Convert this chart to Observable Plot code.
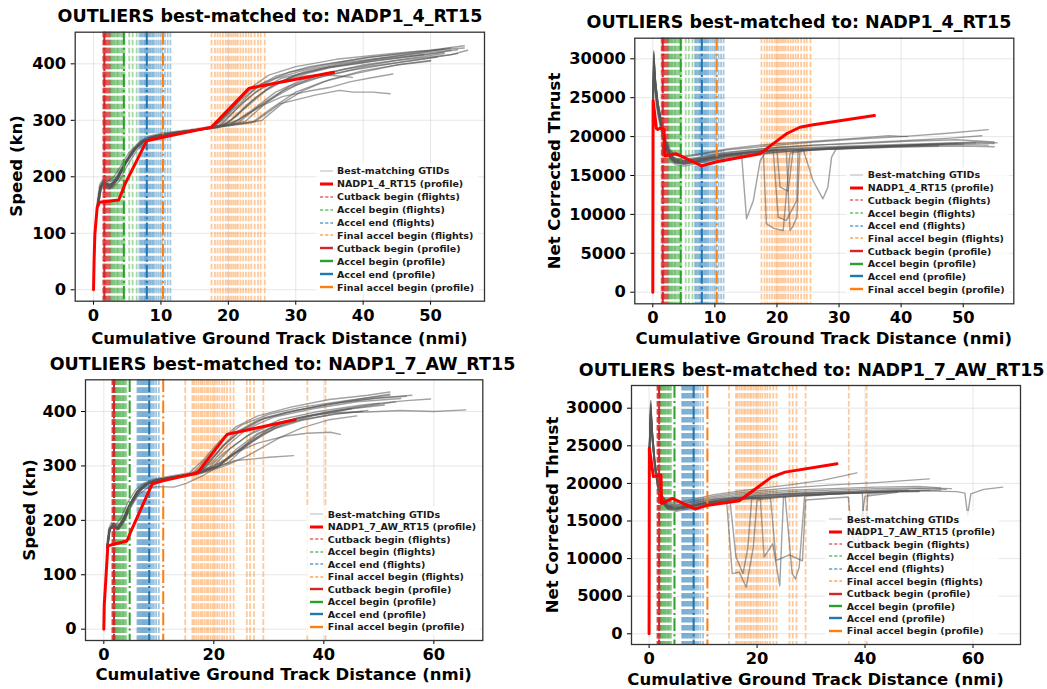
<!DOCTYPE html>
<html><head><meta charset="utf-8">
<script src="https://cdn.jsdelivr.net/npm/d3@7"></script>
<script src="https://cdn.jsdelivr.net/npm/@observablehq/plot@0.6"></script>
<style>
body{margin:0;background:#fff;width:1047px;height:689px;position:relative;overflow:hidden;font-family:"DejaVu Sans",sans-serif;font-weight:bold;color:#000}
.abs{position:absolute}
.title{font-size:17.5px;white-space:nowrap;transform:translate(-50%,-50%);line-height:1}
.xlab{font-size:16.5px;white-space:nowrap;transform:translate(-50%,-50%);line-height:1}
.ylab{font-size:16.5px;white-space:nowrap;transform:translate(-50%,-50%) rotate(-90deg);line-height:1}
.leg{font-size:9.5px;color:#1a1a1a;background:rgba(255,255,255,0.8);padding:2px 4px 2px 4px}
.leg .row{display:flex;align-items:center;white-space:nowrap}
.leg svg{flex:none}
</style>
</head><body>
<script>
// ---------- tick labels ----------
const xTicksTop = [0, 10, 20, 30, 40, 50];
const xTicksBottom = [0, 20, 40, 60];
const speedTicks = [0, 100, 200, 300, 400];
const thrustTicks = [0, 5000, 10000, 15000, 20000, 25000, 30000];

const titles = ["OUTLIERS best-matched to: NADP1_4_RT15", "OUTLIERS best-matched to: NADP1_4_RT15",
                "OUTLIERS best-matched to: NADP1_7_AW_RT15", "OUTLIERS best-matched to: NADP1_7_AW_RT15"];
const xLabel = "Cumulative Ground Track Distance (nmi)";
const yLabels = ["Speed (kn)", "Net Corrected Thrust", "Speed (kn)", "Net Corrected Thrust"];
const legendLabels = ["Best-matching GTIDs", "(profile)", "Cutback begin (flights)", "Accel begin (flights)",
  "Accel end (flights)", "Final accel begin (flights)", "Cutback begin (profile)", "Accel begin (profile)",
  "Accel end (profile)", "Final accel begin (profile)"];
const profileNames = ["NADP1_4_RT15", "NADP1_7_AW_RT15"];

// ---------- event positions (nmi) ----------
const cutbackFlightsA = [1.4, 1.5, 1.55, 1.6, 1.7, 1.75, 1.8, 1.9, 2.0, 2.1, 2.2, 2.3, 2.4, 2.5];
const accelBeginFlightsA = [2.5, 2.7, 2.8, 3.0, 3.1, 3.3, 3.5, 3.6, 3.8, 4.0, 4.2, 4.4, 4.6, 5.3, 5.8, 6.4];
const accelEndFlightsA = [6.8, 7.0, 7.2, 7.4, 7.6, 7.7, 7.9, 8.0, 8.2, 8.4, 8.6, 8.8, 9.0, 9.3, 9.6, 9.9, 10.2, 10.6, 11.0, 11.4];
const finalAccelFlightsA = [17.5, 18.0, 18.4, 18.8, 19.2, 19.6, 19.9, 20.2, 20.5, 20.8, 21.1, 21.4, 21.8, 22.2, 22.6, 23.0, 23.4, 23.9, 24.4, 24.8, 25.4];
const profileEventsA = [1.6, 4.5, 7.9, 10.3];

const cutbackFlightsB = [1.5, 1.6, 1.65, 1.7, 1.8, 1.85, 1.9, 2.0, 2.1];
const accelBeginFlightsB = [2.1, 2.3, 2.4, 2.6, 2.7, 2.9, 3.0, 3.2, 3.4, 3.5, 3.7, 3.9, 4.1];
const accelEndFlightsB = [6.1, 6.3, 6.5, 6.7, 6.9, 7.1, 7.3, 7.5, 7.7, 7.9, 8.1, 8.3, 8.5, 8.8, 9.1, 9.5, 10.0];
const finalAccelFlightsB = [14.8, 16.1, 16.4, 16.8, 17.2, 17.6, 17.9, 18.3, 18.7, 19.0, 19.4, 19.8, 20.2, 20.6, 21.0, 21.5, 21.9, 22.4, 23.0, 23.6, 26.0, 26.6, 27.3, 29.0, 37.0, 40.3];
const profileEventsB = [1.85, 4.7, 8.25, 10.8];

// ---------- profiles [distance, value] ----------
const profileSpeedA = [[0,0],[0.08,50],[0.2,99],[0.54,146],[0.9,155],[3.74,159],[4.7,188],[7.9,264],[10.3,270],[17.5,288],[23.1,357],[35.6,385]];
const profileThrustA = [[0,0],[0.05,24640],[0.6,21000],[0.8,20900],[1.2,21100],[1.8,20900],[1.95,17500],[3.7,17800],[7.9,16250],[10.5,16800],[17.3,17800],[19.4,19100],[21.6,20400],[23.7,21200],[25.6,21500],[35.7,22700]];
const profileSpeedB = [[0,0],[0.08,45],[0.36,90],[0.73,153],[1.8,156],[4.2,162],[5.15,185],[8.8,267],[10.9,273],[17,287],[22.4,358],[34.8,385]];
const profileThrustB = [[0,0],[0.05,24700],[0.8,20900],[2.2,21100],[2.3,17300],[4.3,18000],[8.5,16600],[10.6,17050],[16.7,17700],[19.3,19050],[22.6,20800],[25.2,21500],[34.8,22600]];

// ---------- best-matching flights [distance, value] ----------
const speedFlightsA = [
 [[0.5,148],[0.9,178],[1.3,192],[2.0,185],[3.0,190],[4.0,212],[5.5,240],[7.0,262],[8.5,271],[11,276],[15,283],[17.6,287],[20,315],[23,352],[27,378],[32,395],[40,410],[48,422],[55,428]],
 [[0.7,152],[1.1,185],[1.6,188],[2.5,180],[3.5,198],[4.5,222],[6.0,250],[7.5,265],[9.0,273],[12,279],[16,284],[18.5,290],[21,318],[24,350],[28,375],[34,392],[42,408],[50,418],[54,425]],
 [[0.6,150],[1.0,182],[1.5,194],[2.2,190],[3.2,196],[4.2,215],[5.5,243],[7.0,263],[8.5,270],[11,275],[15,282],[19.5,292],[22.5,322],[25.5,352],[29,375],[35,393],[43,407],[52,420]],
 [[0.8,155],[1.2,188],[1.8,185],[2.8,183],[3.8,200],[5.0,228],[6.5,252],[8.0,267],[10,274],[14,281],[20.5,293],[23.5,318],[27,350],[31,372],[37,390],[45,406],[53,416],[55.5,424]],
 [[0.5,145],[0.9,175],[1.4,186],[2.3,178],[3.3,190],[4.5,218],[6.0,247],[7.5,263],[9.5,272],[13,279],[17,285],[21.5,296],[24.5,325],[28,352],[32,372],[38,388],[46,404],[51,412]],
 [[0.7,150],[1.1,184],[1.6,191],[2.5,186],[3.5,194],[4.8,225],[6.2,250],[7.8,266],[9.5,273],[13,280],[18,287],[22.5,298],[25.5,330],[29,360],[34,382],[40,398],[47,410],[52,418]],
 [[0.6,152],[1.0,180],[1.5,188],[2.4,184],[3.4,196],[4.6,222],[6.0,249],[7.6,265],[9.2,272],[12,277],[16.5,284],[23.5,296],[26.5,322],[30,350],[34,368],[39,383],[45,398],[50,405]],
 [[0.6,150],[1.0,182],[1.6,190],[2.5,184],[3.5,195],[4.7,224],[6.2,250],[7.8,266],[9.6,273],[13,280],[18,288],[24,298],[26,315],[27.6,329],[30.6,338],[33,345],[36.5,353],[38.5,350],[41.4,350],[44,347]],
 [[0.7,153],[1.1,183],[1.7,189],[2.6,183],[3.6,197],[4.8,226],[6.3,251],[7.9,266],[9.7,273],[13,279],[17,286],[20,292],[22,305],[25,326],[28,342],[32,352],[35,358],[38,368],[41,375],[44.4,382]],
 [[0.6,151],[1.0,181],[1.5,189],[2.4,185],[3.4,196],[4.6,221],[6.0,248],[7.6,265],[9.3,272],[12.5,278],[17,286],[19,292],[22,330],[25,358],[28,370],[31,378],[34,381],[36,379],[38.4,376]],
 [[0.5,150],[0.9,186],[1.4,195],[2.0,192],[3.0,200],[4.0,218],[5.2,242],[6.8,262],[8.2,272],[10,277],[14,283],[18,290],[20.5,320],[23,355],[26,380],[30,395],[36,408],[44,418],[50,424],[55,432]],
 [[0.7,150],[1.2,180],[1.8,182],[2.8,180],[3.8,192],[5.0,220],[6.5,248],[8.0,264],[10,272],[14,280],[18.5,287],[21,305],[24,340],[27,365],[31,385],[37,400],[44,412],[52,426]],
 [[0.6,150],[1.0,180],[1.5,190],[2.4,184],[3.4,194],[4.6,220],[6.0,248],[7.6,265],[9.4,272],[12,278],[17,286],[19,300],[22,338],[25,365],[29,385],[34,398],[41,412],[48,420],[53,428]],
 [[0.8,155],[1.2,186],[1.7,186],[2.6,182],[3.6,196],[4.8,224],[6.3,251],[7.9,267],[9.8,274],[13,280],[19,289],[25,300],[28,330],[31,352],[35,372],[40,388],[46,400],[50,406]],
 [[0.6,150],[1.0,183],[1.5,191],[2.3,186],[3.3,195],[4.4,219],[5.8,246],[7.3,264],[9.0,272],[12,278],[16,284],[18,289],[21,322],[24,356],[27,374],[31,388],[37,402],[45,414],[53,424]],
 [[0.7,151],[1.1,182],[1.6,189],[2.5,184],[3.5,195],[4.7,223],[6.1,249],[7.7,265],[9.4,272],[13,279],[17.5,286],[20,296],[23,330],[26,358],[30,380],[35,394],[42,406],[49,416]],
 [[0.6,150],[1.0,181],[1.6,190],[2.5,185],[3.5,196],[4.7,223],[6.1,249],[7.7,265],[9.4,272],[13,280],[18,288],[21.5,300],[24,320],[27,342],[30,362],[34,378],[40,394],[47,405],[54,418]]
];
const thrustFlightsA = [
 [[0.02,23500],[0.15,31000],[0.4,27500],[0.8,24500],[1.4,22000],[2.0,19500],[2.8,17800],[3.6,17000],[5,16800],[7,17000],[9,17300],[12,17700],[16,18100],[20,18400],[25,18600],[32,18800],[40,19000],[48,19200],[55,19100]],
 [[0.02,22500],[0.15,29500],[0.4,26500],[0.8,23500],[1.4,21000],[2.0,18800],[2.8,17300],[3.6,16600],[5,16400],[7,16700],[9,17100],[12,17500],[16,17900],[20,18200],[26,18400],[33,18600],[41,18800],[50,19000],[54,18900]],
 [[0.02,24000],[0.2,30000],[0.5,26500],[0.9,24000],[1.5,21500],[2.1,19000],[2.9,17600],[3.8,17200],[5,17100],[7,17300],[9,17600],[12,18000],[16,18300],[20,18600],[26,18900],[33,19100],[41,19400],[49,19600],[55,19300]],
 [[0.02,23000],[0.15,28500],[0.4,26000],[0.8,23800],[1.4,21800],[2.0,19800],[2.8,18300],[3.6,17600],[5,17400],[7,17600],[9,17900],[12,18300],[16,18600],[20,18900],[26,19300],[33,19700],[40,20000],[47,20400],[54,20900]],
 [[0.02,22000],[0.15,27500],[0.4,25000],[0.8,22800],[1.4,20500],[2.0,18500],[2.8,17000],[3.6,16400],[5,16200],[7,16500],[9,16900],[12,17300],[16,17700],[20,18000],[26,18300],[33,18500],[40,18700],[46,18800]],
 [[0.02,23500],[0.15,30200],[0.4,27000],[0.8,24200],[1.4,21700],[2.0,19200],[2.8,17500],[3.6,16900],[5,16700],[7,16900],[9,17200],[12,17600],[16,18000],[20,18300],[26,18500],[33,18700],[41,18900],[52,19300],[55.5,19200]],
 [[0.02,24500],[0.2,29000],[0.5,26000],[0.9,23500],[1.5,21200],[2.1,19200],[2.9,18000],[3.8,17600],[5,17500],[7,17700],[9,18000],[12,18400],[16,18800],[20,19100],[26,19400],[33,19800],[38,20100],[41,20000]],
 [[0.02,23000],[0.15,29000],[0.4,26000],[0.8,23600],[1.4,21300],[2.0,19000],[2.8,17400],[3.6,16800],[5,16600],[7,16800],[9,17100],[12,17500],[14.3,17700],[15.1,9430],[16.2,11800],[17.3,16900],[18,17800],[22,18100],[28,18400],[36,18700],[44,18900],[50,19000]],
 [[0.02,23800],[0.15,30500],[0.4,27200],[0.8,24300],[1.4,21600],[2.0,19300],[2.8,17600],[3.6,17000],[5,16900],[7,17100],[9,17400],[12,17700],[17.8,18000],[18.3,8800],[19.5,8200],[21,7930],[22.1,17900],[26,18300],[34,18600],[42,18900],[49,19100]],
 [[0.02,22800],[0.15,28800],[0.4,25800],[0.8,23200],[1.4,20900],[2.0,18700],[2.8,17200],[3.6,16700],[5,16500],[7,16800],[9,17200],[12,17600],[16,18000],[19.4,18200],[20.2,9640],[21.5,9200],[23.2,11800],[23.4,18200],[30,18600],[38,18800],[47,19000]],
 [[0.02,23200],[0.15,29800],[0.4,26800],[0.8,24000],[1.4,21400],[2.0,19100],[2.8,17500],[3.6,16900],[5,16700],[7,16900],[9,17300],[12,17700],[16,18100],[21.5,18300],[22.1,7930],[22.6,8500],[23.2,9640],[23.7,18300],[30,18600],[40,18900],[52,19200]],
 [[0.02,24200],[0.15,30800],[0.4,27400],[0.8,24400],[1.4,21800],[2.0,19400],[2.8,17700],[3.6,17100],[5,16900],[7,17100],[9,17400],[12,17800],[16,18100],[20,18300],[24.2,18400],[25.8,14360],[27.4,12000],[28.2,13500],[28.8,17360],[29.5,18400],[36,18700],[45,19000]],
 [[0.02,22600],[0.15,29200],[0.4,26200],[0.8,23400],[1.4,21000],[2.0,18900],[2.8,17300],[3.6,16700],[5,16600],[7,16800],[9,17200],[12,17600],[16,18000],[20,18300],[20.5,13500],[21.8,13000],[22.6,18200],[30,18500],[44,18900]],
 [[0.02,23700],[0.15,30600],[0.4,27300],[0.8,24300],[1.4,21700],[2.0,19300],[2.8,17700],[3.6,17100],[5,16900],[7,17200],[9,17500],[12,17900],[16,18300],[20,18600],[26,18900],[33,19200],[41,19500],[48,19800],[53,20100]],
 [[0.02,22900],[0.15,29100],[0.4,26100],[0.8,23500],[1.4,21100],[2.0,18900],[2.8,17300],[3.6,16700],[5,16500],[7,16700],[9,17000],[12,17400],[16,17800],[20,18100],[26,18300],[33,18500],[41,18700],[50,18800],[55,18700]]
];
const speedFlightsB = [
 [[0.6,150],[1.0,182],[1.6,192],[2.4,186],[3.4,200],[4.6,228],[6.0,252],[7.5,267],[9.0,273],[12,279],[15,284],[16.5,290],[19,318],[22,352],[25,375],[30,395],[36,408],[44,420],[52,430]],
 [[0.7,152],[1.1,186],[1.8,190],[2.6,184],[3.6,202],[4.8,232],[6.2,255],[7.8,268],[9.5,275],[13,281],[17,288],[19.5,305],[22.5,338],[26,368],[31,390],[38,405],[46,418],[54,424]],
 [[0.5,148],[0.9,178],[1.5,188],[2.3,182],[3.3,196],[4.5,224],[5.9,250],[7.4,266],[9.0,273],[12,279],[16,285],[20,300],[23,332],[27,362],[32,385],[39,400],[47,412],[55,420],[59.4,423]],
 [[0.6,150],[1.0,184],[1.6,194],[2.5,188],[3.5,204],[4.7,230],[6.1,254],[7.6,267],[9.2,274],[12.5,280],[17.5,287],[21,300],[24,325],[28,358],[33,382],[40,398],[48,410],[53,418]],
 [[0.7,150],[1.1,182],[1.7,190],[2.6,185],[3.6,198],[4.8,226],[6.3,252],[7.9,267],[9.6,274],[13,280],[18,288],[22.5,305],[26,338],[30,368],[35,388],[42,402],[50,415]],
 [[0.6,150],[1.0,182],[1.5,190],[2.4,186],[3.4,200],[4.6,226],[6.0,252],[7.6,266],[9.3,273],[12.5,279],[16,285],[19,296],[22,325],[26,355],[31,378],[37,392],[42,398],[47.9,399],[53.9,402],[60,400],[65.8,403]],
 [[0.7,152],[1.1,184],[1.7,189],[2.6,184],[3.6,199],[4.8,227],[6.3,251],[7.9,266],[9.6,272],[14,282],[18,290],[21,300],[24,310],[27.3,313],[30,316],[34.5,319]],
 [[0.6,151],[1.0,183],[1.6,191],[2.5,186],[3.5,200],[4.7,228],[6.2,252],[7.8,267],[9.5,274],[13,280],[17,288],[21,305],[24,325],[28,342],[33,355],[37,360],[41.2,362],[43,358]],
 [[0.5,150],[0.9,185],[1.4,196],[2.2,192],[3.2,206],[4.4,234],[5.8,256],[7.2,268],[8.8,275],[12,281],[15.5,287],[18,310],[21,345],[24,372],[28,392],[34,408],[41,422],[48,430],[52,436]],
 [[0.8,155],[1.2,186],[1.8,188],[2.8,184],[3.8,200],[5.0,228],[6.5,253],[8.0,267],[9.8,274],[13,279],[17,286],[20.5,298],[23.5,322],[27,348],[31,370],[36,385],[42,395],[48,402]],
 [[0.6,150],[1.0,183],[1.6,191],[2.5,186],[3.5,201],[4.7,229],[6.1,253],[7.7,267],[9.4,274],[12.5,280],[16.5,286],[18.5,298],[21.5,335],[25,365],[29,386],[35,402],[43,416],[50,425],[56,430]],
 [[0.7,151],[1.1,183],[1.7,189],[2.6,185],[3.6,199],[4.8,227],[6.2,252],[7.8,266],[9.5,273],[13,278],[17,284],[22,300],[26,318],[29,335],[32,352],[36,370],[41,385],[46,392]],
 [[0.7,152],[1.1,184],[1.7,188],[2.6,183],[3.6,196],[4.8,222],[6.3,247],[8.0,260],[10,262],[12.7,261],[15,268],[18,282],[21,300],[24,330],[28,360],[33,382],[39,395],[45,405]],
 [[0.6,150],[1.0,182],[1.6,190],[2.5,185],[3.5,199],[4.7,228],[6.1,252],[7.7,266],[9.3,273],[12,279],[16,285],[18,296],[21,330],[24,362],[28,384],[33,398],[40,412],[47,424],[52,432]],
 [[0.6,151],[1.0,183],[1.6,191],[2.5,186],[3.5,200],[4.7,228],[6.1,252],[7.7,266],[9.3,273],[12.5,279],[16,285],[19,305],[22,340],[25,366],[29,388],[34,400],[41,414],[49,424],[55,428]],
 [[0.7,152],[1.1,184],[1.7,190],[2.6,185],[3.6,200],[4.8,228],[6.2,252],[7.8,266],[9.5,273],[13,280],[17.5,288],[21,302],[25,330],[29,358],[33,378],[38,392],[45,405],[51,412]],
 [[0.6,150],[1.0,182],[1.6,190],[2.5,185],[3.5,199],[4.7,227],[6.1,251],[7.7,266],[9.4,273],[12.5,279],[17,287],[20,298],[23,318],[27,345],[31,368],[36,384],[42,396],[47,400]]
];
const thrustFlightsB = [
 [[0.02,24000],[0.3,31000],[0.6,27000],[1.1,22500],[1.7,19800],[2.4,18000],[3.4,17000],[5,16800],[7,17000],[9,17300],[12,17700],[16,18100],[20,18400],[26,18700],[34,18900],[42,19100],[50,19300],[55,19200]],
 [[0.02,23000],[0.3,29500],[0.6,26000],[1.1,21800],[1.7,19200],[2.4,17500],[3.4,16600],[5,16300],[7,16600],[9,17000],[12,17400],[16,17800],[20,18100],[26,18400],[34,18600],[42,18800],[50,18900]],
 [[0.02,24500],[0.3,30000],[0.6,26800],[1.1,22800],[1.7,20200],[2.4,18400],[3.4,17400],[5,17200],[7,17400],[9,17700],[12,18100],[16,18500],[20,18800],[26,19100],[34,19300],[42,19500],[50,19600],[54,19400]],
 [[0.02,23500],[0.3,28500],[0.6,25500],[1.1,22000],[1.7,19800],[2.4,18300],[3.4,17600],[5,17400],[7,17700],[9,18000],[12,18500],[16,18900],[20,19300],[26,19800],[32,20400],[36,21000],[38.5,21400]],
 [[0.02,24200],[0.3,30500],[0.6,26500],[1.1,22300],[1.7,19900],[2.4,18200],[3.4,17300],[5,17100],[7,17400],[9,17800],[12,18300],[16,18700],[20,19000],[26,19400],[34,19800],[42,20100],[48,20400],[51.9,20600]],
 [[0.02,23000],[0.3,29000],[0.6,26000],[1.1,22000],[1.7,19500],[2.4,17800],[3.4,16900],[5,16700],[7,16900],[9,17200],[12,17600],[16,18000],[20,18300],[26,18600],[34,18800],[42,19000],[50,19000],[57,18900],[58.5,18700],[59,15800],[59.6,18600],[62,19200],[65.5,19500]],
 [[0.02,23800],[0.3,30200],[0.6,26600],[1.1,22400],[1.7,19700],[2.4,17900],[3.4,17000],[5,16800],[7,17000],[9,17300],[12,17600],[14.4,17300],[15.4,8000],[16.7,8200],[18,6200],[19.3,11500],[20,17800],[26,18300],[34,18600],[42,18900],[48,19100]],
 [[0.02,23300],[0.3,29800],[0.6,26300],[1.1,22100],[1.7,19400],[2.4,17700],[3.4,16800],[5,16600],[7,16800],[9,17200],[12,17500],[15,17600],[16.1,10200],[17.4,8000],[18.3,11500],[19,17900],[26,18300],[34,18600],[44,18900],[52,19100]],
 [[0.02,24000],[0.3,30800],[0.6,26900],[1.1,22600],[1.7,19900],[2.4,18100],[3.4,17200],[5,17000],[7,17200],[9,17500],[12,17900],[16,18100],[20.6,18100],[21.3,10200],[22.9,12000],[24.2,6400],[24.9,18200],[30,18500],[40,18800],[50,19000]],
 [[0.02,22800],[0.3,29200],[0.6,25800],[1.1,21700],[1.7,19100],[2.4,17400],[3.4,16700],[5,16500],[7,16800],[9,17100],[12,17500],[16,17900],[20,18100],[25.2,18300],[26.5,8000],[27.1,7300],[27.8,8860],[28.8,18300],[34,18600],[45,18900]],
 [[0.02,23600],[0.3,30100],[0.6,26400],[1.1,22200],[1.7,19600],[2.4,17800],[3.4,16900],[5,16700],[7,16900],[9,17200],[12,17600],[16,17900],[22.5,18100],[23.5,9750],[26,10500],[28.4,9700],[29,17800],[36.9,18200],[37.5,13300],[38.5,11500],[39.5,16000],[40,18300],[46,18800]],
 [[0.02,23200],[0.3,29600],[0.6,26100],[1.1,22000],[1.7,19400],[2.4,17600],[3.4,16800],[5,16600],[7,16900],[9,17200],[12,17700],[16,18100],[20,18400],[26,18600],[34,18800],[39.5,18800],[40,10600],[40.5,18600],[46,18900],[54,19100]],
 [[0.02,23700],[0.3,30400],[0.6,26700],[1.1,22500],[1.7,19800],[2.4,18000],[3.4,17100],[5,16900],[7,17100],[9,17500],[12,17900],[16,18300],[20,18600],[26,18900],[34,19100],[42,19300],[50,19400],[56,19300]],
 [[0.02,23100],[0.3,29300],[0.6,25900],[1.1,21900],[1.7,19300],[2.4,17600],[3.4,16700],[5,16500],[7,16800],[9,17100],[12,17500],[16,17900],[20,18200],[26,18500],[34,18700],[42,18900],[48,19000]]
];

// ---------- styling ----------
const tab = {red: "#d62728", green: "#2ca02c", blue: "#1f77b4", orange: "#ff7f0e"};
const eventColors = [tab.red, tab.green, tab.blue, tab.orange];
const font = '"DejaVu Sans", sans-serif';

const panels = [
  {left: 0, top: 0, w: 520, h: 340, ml: 74.7, mr: 36, mt: 31.7, mb: 39.3, xd: [-2.72, 58.0], yd: [-20.2, 456], xt: xTicksTop, yt: speedTicks,
   flights: speedFlightsA, profile: profileSpeedA, ev: [cutbackFlightsA, accelBeginFlightsA, accelEndFlightsA, finalAccelFlightsA], pev: profileEventsA,
   title: [270, 17], xl: [279.4, 339], yl: [17, 166], leg: [337, 171, 12.9], name: profileNames[0]},
  {left: 520, top: 0, w: 527, h: 340, ml: 114.3, mr: 33.7, mt: 37.7, mb: 36.7, xd: [-2.9, 58.15], yd: [-1491, 32648], xt: xTicksTop, yt: thrustTicks,
   flights: thrustFlightsA, profile: profileThrustA, ev: [cutbackFlightsA, accelBeginFlightsA, accelEndFlightsA, finalAccelFlightsA], pev: profileEventsA,
   title: [799, 23], xl: [823.8, 339], yl: [555, 170.5], leg: [867.7, 175, 12.7], name: profileNames[0]},
  {left: 0, top: 340, w: 520, h: 349, ml: 85, mr: 37.7, mt: 39.3, mb: 49, xd: [-3.33, 68.9], yd: [-20.8, 458.3], xt: xTicksBottom, yt: speedTicks,
   flights: speedFlightsB, profile: profileSpeedB, ev: [cutbackFlightsB, accelBeginFlightsB, accelEndFlightsB, finalAccelFlightsB], pev: profileEventsB,
   title: [282.5, 365], xl: [283.7, 675], yl: [30, 509.7], leg: [327.7, 514, 12.5], name: profileNames[1]},
  {left: 520, top: 340, w: 527, h: 349, ml: 111, mr: 27, mt: 45, mb: 45, xd: [-3.26, 68.8], yd: [-1423, 33019], xt: xTicksBottom, yt: thrustTicks,
   flights: thrustFlightsB, profile: profileThrustB, ev: [cutbackFlightsB, accelBeginFlightsB, accelEndFlightsB, finalAccelFlightsB], pev: profileEventsB,
   title: [811.7, 371], xl: [815.5, 680], yl: [553, 514.5], leg: [846.7, 519.3, 12.4], name: profileNames[1]}
];

function addDiv(cls, text, x, y) {
  const d = document.createElement("div");
  d.className = "abs " + cls;
  d.style.left = x + "px"; d.style.top = y + "px";
  d.textContent = text;
  document.body.appendChild(d);
}

panels.forEach((p, i) => {
  const rows = p.flights.flatMap((f, k) => f.map(([x, y]) => ({id: k, x, y})));
  const prof = p.profile.map(([x, y]) => ({x, y}));
  const flightRules = p.ev.map((arr, k) => Plot.ruleX(arr, {stroke: eventColors[k], strokeOpacity: 0.42, strokeWidth: 1.8, strokeDasharray: "5.6,2.4"}));
  const profRules = p.pev.map((v, k) => Plot.ruleX([v], {stroke: eventColors[k], strokeWidth: 2, strokeDasharray: "12.8,3.2,2,3.2"}));
  const svg = Plot.plot({
    width: p.w, height: p.h,
    marginLeft: p.ml, marginRight: p.mr, marginTop: p.mt, marginBottom: p.mb,
    x: {domain: p.xd, ticks: p.xt, tickSize: 4, tickPadding: 4, tickFormat: d => String(d), label: null},
    y: {domain: p.yd, ticks: p.yt, tickSize: 4, tickPadding: 5, tickFormat: d => String(d), label: null},
    style: {fontFamily: font, fontSize: "16.3px", fontWeight: "bold", color: "#000", background: "transparent", overflow: "visible"},
    marks: [
      Plot.ruleX(p.xt, {stroke: "#b0b0b0", strokeOpacity: 0.3, strokeWidth: 1}),
      Plot.ruleY(p.yt, {stroke: "#b0b0b0", strokeOpacity: 0.3, strokeWidth: 1}),
      ...flightRules,
      Plot.line(rows, {x: "x", y: "y", z: "id", stroke: "#555", strokeOpacity: 0.55, strokeWidth: 1.4}),
      ...profRules,
      Plot.line(prof, {x: "x", y: "y", stroke: "#ff0000", strokeWidth: 3, strokeLinejoin: "round"}),
      Plot.frame({stroke: "#333", strokeWidth: 1.3})
    ]
  });
  const wrap = document.createElement("div");
  wrap.className = "abs";
  wrap.style.left = p.left + "px"; wrap.style.top = p.top + "px";
  wrap.style.width = p.w + "px"; wrap.style.height = p.h + "px";
  wrap.appendChild(svg);
  document.body.appendChild(wrap);

  addDiv("title", titles[i], p.title[0], p.title[1]);
  addDiv("xlab", xLabel, p.xl[0], p.xl[1]);
  addDiv("ylab", yLabels[i], p.yl[0], p.yl[1]);

  // legend
  const [tx, ty, rh] = p.leg;
  const entries = [
    {c: "#9a9a9a", o: 0.55, w: 1.3, d: null},
    {c: "#ff0000", o: 1, w: 3, d: null},
    {c: tab.red, o: 0.7, w: 1.5, d: "3.2,2"},
    {c: tab.green, o: 0.7, w: 1.5, d: "3.2,2"},
    {c: tab.blue, o: 0.7, w: 1.5, d: "3.2,2"},
    {c: tab.orange, o: 0.7, w: 1.5, d: "3.2,2"},
    {c: tab.red, o: 1, w: 2.4, d: null},
    {c: tab.green, o: 1, w: 2.4, d: null},
    {c: tab.blue, o: 1, w: 2.4, d: null},
    {c: tab.orange, o: 1, w: 2.4, d: null}
  ];
  const leg = document.createElement("div");
  leg.className = "abs leg";
  leg.style.left = (tx - 17.5 - 4) + "px";
  leg.style.top = (ty - rh / 2 - 2) + "px";
  entries.forEach((e, k) => {
    const r = document.createElement("div");
    r.className = "row";
    r.style.height = rh + "px";
    const lab = k === 1 ? p.name + " " + legendLabels[1] : legendLabels[k];
    r.innerHTML = `<svg width="13" height="8"><line x1="0" y1="4" x2="13" y2="4" stroke="${e.c}" stroke-opacity="${e.o}" stroke-width="${e.w}" ${e.d ? `stroke-dasharray="${e.d}"` : ""}/></svg><span style="margin-left:4.5px">${lab}</span>`;
    leg.appendChild(r);
  });
  document.body.appendChild(leg);
});
</script>
</body></html>
